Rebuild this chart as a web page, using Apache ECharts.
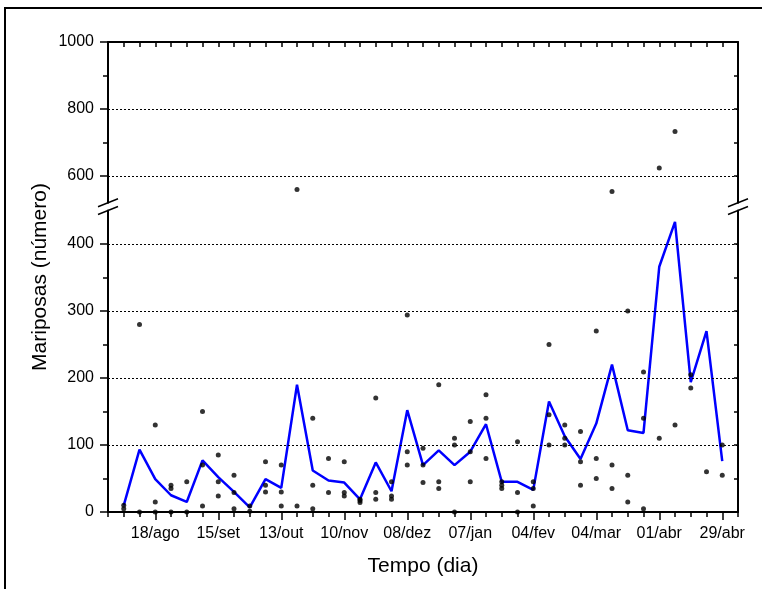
<!DOCTYPE html>
<html><head><meta charset="utf-8">
<script src="https://cdn.jsdelivr.net/npm/echarts@6/dist/echarts.min.js"></script>
<style>html,body{margin:0;padding:0;background:#fff}#c{width:762px;height:589px}</style>
</head><body><div id="c"></div>
<script>
// ---- data ----
const tickLabels = ['18/ago','15/set','13/out','10/nov','08/dez','07/jan','04/fev','04/mar','01/abr','29/abr'];
const tickWeeks  = [2,6,10,14,18,22,26,30,34,38];
const meanValues = [10,93,49,25,15,77,52,30,7,49,36,190,62,47,44,19,74,31,152,70,92,70,90,131,45,45,33,165,113,79,132,220,122,118,366,433,194,270,76];
const rep1 = [10,280,130,40,45,150,85,55,9,75,70,560,140,80,75,19,170,45,294,95,190,110,135,175,45,105,45,250,130,120,270,554,300,209,624,733,205,60,100];
const rep2 = [5,0,15,35,0,70,45,29,1,40,30,9,40,29,29,17,29,24,90,70,45,100,90,140,40,29,35,145,110,75,80,70,55,140,110,130,185,null,55];
const rep3 = [null,null,0,0,null,9,24,5,null,30,9,null,5,null,24,14,19,19,70,44,35,0,45,80,35,0,9,100,100,40,50,35,15,5,null,null,null,null,null];
const lowerTickLabels = [0,100,200,300,400];
const upperTickLabels = [600,800,1000];
const lowerGridlines = [100,200,300,400];
const upperGridlines = [600,800];

// ---- layout ----
const LOW_MIN = 0, LOW_MAX = 450, UP_MIN = 520, UP_MAX = 1000;
const PL = 108, PR = 738, PTOP = 42, PBOT = 512;
const PXPER100 = 67;
const lowerH = (LOW_MAX - LOW_MIN) / 100 * PXPER100;
const upperH = (UP_MAX - UP_MIN) / 200 * PXPER100;
const lowerTop = PBOT - lowerH;
const upperBot = PTOP + upperH;

const lowerPts = [], upperPts = [];
[rep1, rep2, rep3].forEach(arr => arr.forEach((v, i) => {
  if (v == null) return;
  (v > LOW_MAX ? upperPts : lowerPts).push([i, v]);
}));

const FONT = 'Liberation Sans, Arial, sans-serif';
const black = '#000';
const weekTicks = []; for (let i = -1; i <= 39; i++) weekTicks.push(i);

function yAx(grid, pos, min, max, ticks, len, inside, labels, showLine) {
  return {
    type: 'value', gridIndex: grid, position: pos, min: min, max: max, offset: 0,
    axisLine: { show: showLine, onZero: false, lineStyle: { color: black, width: 2 } },
    axisTick: { show: true, customValues: ticks, length: len, inside: inside, lineStyle: { color: black, width: 1.5 } },
    axisLabel: labels ? { show: true, customValues: labels, formatter: v => String(v), color: black, fontSize: 16, fontFamily: FONT, margin: 14 } : { show: false },
    splitLine: { show: false }
  };
}

const breakLines = [];
[PL, PR].forEach(x => {
  [upperBot, lowerTop].forEach(y => {
    breakLines.push({ type: 'line', z: 100, shape: { x1: x - 10, y1: y + 4, x2: x + 10, y2: y - 4 }, style: { stroke: black, lineWidth: 1.5 } });
  });
});

const option = {
  animation: false,
  backgroundColor: '#fff',
  grid: [
    { left: PL, width: PR - PL, top: PTOP, height: upperH },
    { left: PL, width: PR - PL, top: lowerTop, height: lowerH }
  ],
  xAxis: [
    { type: 'value', gridIndex: 1, position: 'bottom', min: -1, max: 39,
      axisLine: { show: true, onZero: false, lineStyle: { color: black, width: 2 } },
      axisTick: { show: true, customValues: weekTicks, length: 5, lineStyle: { color: black, width: 1.5 } },
      axisLabel: { show: false }, splitLine: { show: false } },
    { type: 'value', gridIndex: 1, position: 'bottom', min: -1, max: 39, offset: 0,
      axisLine: { show: false, onZero: false },
      axisTick: { show: true, customValues: tickWeeks, length: 8, lineStyle: { color: black, width: 1.5 } },
      axisLabel: { show: true, customValues: tickWeeks, formatter: v => tickLabels[tickWeeks.indexOf(v)] || '',
        color: black, fontSize: 16, fontFamily: FONT, margin: 14 },
      splitLine: { show: false },
      name: 'Tempo (dia)', nameLocation: 'middle', nameGap: 44,
      nameTextStyle: { color: black, fontSize: 21, fontFamily: FONT } },
    { type: 'value', gridIndex: 0, position: 'top', min: -1, max: 39,
      axisLine: { show: true, onZero: false, lineStyle: { color: black, width: 2 } },
      axisTick: { show: true, customValues: weekTicks, length: 5, inside: true, lineStyle: { color: black, width: 1.5 } },
      axisLabel: { show: false }, splitLine: { show: false } }
  ],
  yAxis: [
    yAx(1, 'left', LOW_MIN, LOW_MAX, lowerTickLabels, 8, false, lowerTickLabels, true),
    yAx(1, 'left', LOW_MIN, LOW_MAX, [50,150,250,350], 5, false, null, false),
    yAx(1, 'right', LOW_MIN, LOW_MAX, [50,100,150,200,250,300,350,400], 4, true, null, true),
    yAx(0, 'left', UP_MIN, UP_MAX, upperTickLabels, 8, false, upperTickLabels, true),
    yAx(0, 'left', UP_MIN, UP_MAX, [700,900], 5, false, null, false),
    yAx(0, 'right', UP_MIN, UP_MAX, [600,700,800,900], 4, true, null, true)
  ],
  series: [
    { type: 'line', xAxisIndex: 0, yAxisIndex: 0, data: meanValues.map((v, i) => [i, v]),
      showSymbol: false, symbol: 'none', lineStyle: { color: '#0000ff', width: 2.5 }, z: 2,
      markLine: { silent: true, symbol: 'none', label: { show: false },
        lineStyle: { color: black, type: [2, 2], width: 1 },
        data: lowerGridlines.map(v => ({ yAxis: v })) } },
    { type: 'scatter', xAxisIndex: 0, yAxisIndex: 0, data: lowerPts, symbolSize: 5,
      itemStyle: { color: black }, z: 3 },
    { type: 'scatter', xAxisIndex: 2, yAxisIndex: 3, data: upperPts, symbolSize: 5,
      itemStyle: { color: black }, z: 3,
      markLine: { silent: true, symbol: 'none', label: { show: false },
        lineStyle: { color: black, type: [2, 2], width: 1 },
        data: upperGridlines.map(v => ({ yAxis: v })) } }
  ],
  graphic: [
    { type: 'rect', shape: { x: 5, y: 8, width: 900, height: 800 }, style: { fill: 'none', stroke: black, lineWidth: 2 } },
    { type: 'text', x: 40, y: (PTOP + PBOT) / 2, rotation: Math.PI / 2,
      style: { text: 'Mariposas (número)', fill: black, font: '21px ' + FONT, align: 'center', verticalAlign: 'middle' } }
  ].concat(breakLines)
};

const chart = echarts.init(document.getElementById('c'), null, { renderer: 'canvas' });
chart.setOption(option);
</script>
</body></html>
